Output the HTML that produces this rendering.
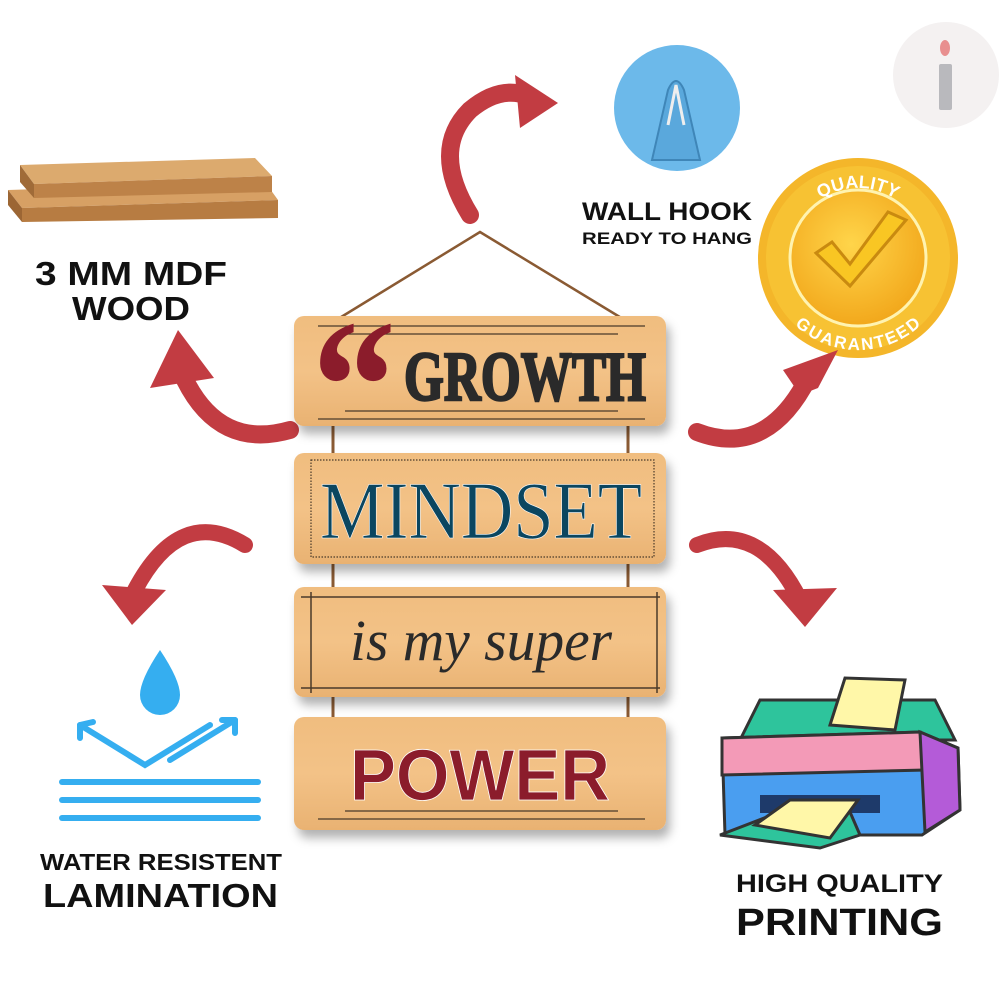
<!DOCTYPE html>
<html><head><meta charset="utf-8"><style>
html,body{margin:0;padding:0;background:#fff;}
svg{display:block}
</style></head><body>
<svg width="1000" height="1000" viewBox="0 0 1000 1000" xmlns="http://www.w3.org/2000/svg">
<defs>
<linearGradient id="wood" x1="0" y1="0" x2="0" y2="1">
<stop offset="0" stop-color="#f0bd7f"/><stop offset="0.5" stop-color="#f3c287"/><stop offset="1" stop-color="#e9b272"/>
</linearGradient>
<radialGradient id="gold" cx="0.45" cy="0.4" r="0.6">
<stop offset="0" stop-color="#ffd54a"/><stop offset="1" stop-color="#f2a81c"/>
</radialGradient>
<filter id="sh" x="-10%" y="-10%" width="130%" height="140%"><feDropShadow dx="4" dy="8" stdDeviation="5" flood-color="#000" flood-opacity="0.3"/></filter>
<path id="arcTop" d="M-70,0 A70,70 0 0 1 70,0"/>
<path id="arcBot" d="M-78,0 A78,78 0 0 0 78,0"/>
</defs>

<circle cx="946" cy="75" r="53" fill="#f4f1f1"/>
<rect x="939" y="64" width="13" height="46" rx="2" fill="#b9b9bd"/>
<ellipse cx="945" cy="48" rx="5" ry="8" fill="#e88f8f"/>

<polygon points="8,190 265,182 278,200 22,208" fill="#d7a064"/>
<polygon points="22,208 278,200 278,218 22,222" fill="#b77c42"/>
<polygon points="8,190 22,208 22,222 8,205" fill="#9c6634"/>
<polygon points="20,165 255,158 272,176 34,184" fill="#dcaa6e"/>
<polygon points="34,184 272,176 272,192 34,198" fill="#bd8248"/>
<polygon points="20,165 34,184 34,198 20,182" fill="#a06b38"/>

<g font-family="'Liberation Sans',sans-serif" font-weight="bold" fill="#111" lengthAdjust="spacingAndGlyphs">
<text x="35" y="285" font-size="33" textLength="192" lengthAdjust="spacingAndGlyphs">3 MM MDF</text>
<text x="72" y="320" font-size="33" textLength="118" lengthAdjust="spacingAndGlyphs">WOOD</text>
<text x="582" y="220" font-size="25" textLength="170" lengthAdjust="spacingAndGlyphs">WALL HOOK</text>
<text x="582" y="244" font-size="17" textLength="170" lengthAdjust="spacingAndGlyphs">READY TO HANG</text>
<text x="40" y="870" font-size="23" textLength="242" lengthAdjust="spacingAndGlyphs">WATER RESISTENT</text>
<text x="43" y="907" font-size="33" textLength="235" lengthAdjust="spacingAndGlyphs">LAMINATION</text>
<text x="736" y="892" font-size="25" textLength="207" lengthAdjust="spacingAndGlyphs">HIGH QUALITY</text>
<text x="736" y="935" font-size="38" textLength="207" lengthAdjust="spacingAndGlyphs">PRINTING</text>
</g>

<circle cx="677" cy="108" r="63" fill="#6cb9ea"/>
<path d="M652,160 L668,90 Q676,72 684,90 L700,160 Z" fill="#5aa8dc" stroke="#3f86b8" stroke-width="2"/>
<path d="M668,125 L676,85 L684,125" fill="none" stroke="#eee" stroke-width="3"/>

<g transform="translate(858,258)">
<circle r="100" fill="#f4b62a"/>
<circle r="92" fill="#f7c233"/>
<circle r="68" fill="url(#gold)" stroke="#fff3b0" stroke-width="3"/>
<path d="M-42,-5 L-8,28 L48,-38 L30,-46 L-8,6 L-26,-16 Z" fill="#f9c623" stroke="#c98a10" stroke-width="3"/>
<text font-family="'Liberation Sans',sans-serif" font-weight="bold" font-size="18" fill="#fff" text-anchor="middle"><textPath href="#arcTop" startOffset="50%">QUALITY</textPath></text>
<text font-family="'Liberation Sans',sans-serif" font-weight="bold" font-size="17" fill="#fff" text-anchor="middle" dy="14"><textPath href="#arcBot" startOffset="50%">GUARANTEED</textPath></text>
</g>

<g fill="none" stroke="#c23c42" stroke-linecap="round">
<path d="M470,215 Q430,150 470,110 Q500,85 528,96" stroke-width="18"/>
<path d="M290,430 Q220,450 185,380" stroke-width="18"/>
<path d="M697,432 Q770,460 812,370" stroke-width="18"/>
<path d="M245,545 Q180,505 135,590" stroke-width="16"/>
<path d="M697,545 Q760,520 800,600" stroke-width="16"/>
</g>
<g fill="#c23c42">
<polygon points="515,75 558,103 520,128"/>
<polygon points="150,388 178,330 214,378"/>
<polygon points="783,370 838,350 818,388 800,395"/>
<polygon points="102,585 166,590 132,625"/>
<polygon points="773,590 837,588 805,627"/>
</g>

<polyline points="333,322 480,232 628,322" fill="none" stroke="#8a5a33" stroke-width="2.5"/>
<g stroke="#8a5a33" stroke-width="3">
<line x1="333" y1="418" x2="333" y2="465"/><line x1="628" y1="418" x2="628" y2="465"/>
<line x1="333" y1="553" x2="333" y2="600"/><line x1="628" y1="553" x2="628" y2="600"/>
<line x1="333" y1="683" x2="333" y2="735"/><line x1="628" y1="683" x2="628" y2="735"/>
</g>

<g filter="url(#sh)" fill="url(#wood)">
<rect x="294" y="316" width="372" height="110" rx="10"/>
<rect x="294" y="453" width="372" height="111" rx="10"/>
<rect x="294" y="587" width="372" height="110" rx="10"/>
<rect x="294" y="717" width="372" height="113" rx="10"/>
</g>
<g stroke="#4a3a2a" stroke-width="1.2">
<line x1="318" y1="326" x2="645" y2="326"/><line x1="345" y1="334" x2="618" y2="334"/>
<line x1="345" y1="411" x2="618" y2="411"/><line x1="318" y1="419" x2="645" y2="419"/>
<rect x="311" y="460" width="343" height="97" fill="none" stroke-dasharray="1.5,1.5"/>
<line x1="301" y1="597" x2="660" y2="597" stroke-width="1.5"/><line x1="301" y1="688" x2="660" y2="688" stroke-width="1.5"/>
<line x1="311" y1="592" x2="311" y2="693" stroke-width="1.5"/><line x1="657" y1="592" x2="657" y2="693" stroke-width="1.5"/>
<line x1="345" y1="811" x2="618" y2="811"/><line x1="318" y1="819" x2="645" y2="819"/>
</g>
<text x="312" y="450" font-family="'Liberation Serif',serif" font-weight="bold" font-size="190" fill="#8b1c2b" textLength="84" lengthAdjust="spacingAndGlyphs">“</text>
<text x="404" y="400" font-family="'Liberation Serif',serif" font-weight="bold" font-size="70" fill="#2a2a2a" textLength="242" lengthAdjust="spacingAndGlyphs" stroke="#2a2a2a" stroke-width="2.5">GROWTH</text>
<text x="320" y="538" font-family="'Liberation Serif',serif" font-size="82" fill="#0b4660" textLength="322" lengthAdjust="spacingAndGlyphs" stroke="#fff" stroke-width="0.6">MINDSET</text>
<text x="350" y="660" font-family="'Liberation Serif',serif" font-style="italic" font-size="58" fill="#2a2a2a" textLength="262" lengthAdjust="spacingAndGlyphs">is my super</text>
<text x="350" y="800" font-family="'Liberation Sans',sans-serif" font-weight="bold" font-size="72" fill="#8b1c2b" textLength="260" lengthAdjust="spacingAndGlyphs" stroke="#fff" stroke-width="0.8">POWER</text>

<g fill="none" stroke="#35aef0" stroke-width="6" stroke-linecap="round">
<path d="M80,725 L145,765 L210,725"/>
<path d="M80,725 L80,738 M80,725 L93,722"/>
<path d="M235,720 L170,760"/><path d="M235,720 L222,720 M235,720 L235,733"/>
<line x1="62" y1="782" x2="258" y2="782"/>
<line x1="62" y1="800" x2="258" y2="800"/>
<line x1="62" y1="818" x2="258" y2="818"/>
</g>
<path d="M160,650 Q140,680 140,695 A20,20 0 0 0 180,695 Q180,680 160,650 Z" fill="#35aef0"/>

<polygon points="740,740 760,700 935,700 955,740" fill="#2ec49c" stroke="#333" stroke-width="3"/>
<polygon points="830,725 845,678 905,680 895,730" fill="#fff7a8" stroke="#333" stroke-width="3"/>
<polygon points="722,738 920,732 958,748 960,810 922,835 725,835" fill="#4a9ef0" stroke="#333" stroke-width="3"/>
<polygon points="722,738 920,732 925,770 722,775" fill="#f39ab7" stroke="#333" stroke-width="3"/>
<polygon points="920,732 958,748 960,810 925,832" fill="#b45bd8" stroke="#333" stroke-width="3"/>
<rect x="760" y="795" width="120" height="18" fill="#1e3a6a"/>
<polygon points="720,835 780,812 850,812 860,835 820,848" fill="#2ec49c" stroke="#333" stroke-width="3"/>
<polygon points="755,825 790,800 858,800 830,838" fill="#fff7a8" stroke="#333" stroke-width="3"/>
</svg>
</body></html>
